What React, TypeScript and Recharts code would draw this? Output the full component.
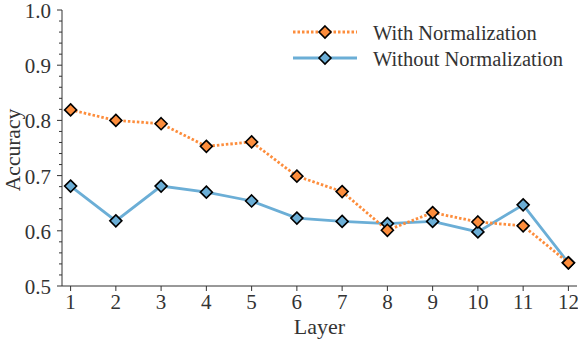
import React from 'react';
import { LineChart, Line, XAxis, YAxis } from 'recharts';

const layers = [1, 2, 3, 4, 5, 6, 7, 8, 9, 10, 11, 12];
const withNorm = [0.819, 0.8, 0.794, 0.753, 0.761, 0.699, 0.671, 0.601, 0.633, 0.616, 0.609, 0.542];
const withoutNorm = [0.681, 0.618, 0.681, 0.67, 0.654, 0.623, 0.617, 0.613, 0.617, 0.598, 0.647, 0.542];
const yTicks = [0.5, 0.52, 0.54, 0.56, 0.58, 0.6, 0.62, 0.64, 0.66, 0.68, 0.7, 0.72, 0.74, 0.76, 0.78, 0.8, 0.82, 0.84, 0.86, 0.88, 0.9, 0.92, 0.94, 0.96, 0.98, 1.0];
const yMajor = [0.5, 0.6, 0.7, 0.8, 0.9, 1.0];
const seriesNames = ['With Normalization', 'Without Normalization'];
const xLabel = 'Layer';
const yLabel = 'Accuracy';

const ORANGE = '#fd8d3c';
const BLUE = '#6baed6';
const TEXT = '#333333';
const FONT = '"Liberation Serif", "Times New Roman", serif';

const data = layers.map((l, i) => ({ layer: l, withNorm: withNorm[i], withoutNorm: withoutNorm[i] }));

const Diamond = (color: string) => (props: any) => {
  const { cx, cy } = props;
  if (cx == null || cy == null) return null;
  const r = 6;
  return (
    <path
      d={`M${cx},${cy - r}L${cx + r},${cy}L${cx},${cy + r}L${cx - r},${cy}Z`}
      fill={color}
      stroke="#000"
      strokeWidth={1.6}
    />
  );
};

const YTick = (props: any) => {
  const { x, y, payload } = props;
  const v = payload.value;
  const major = yMajor.some((m) => Math.abs(m - v) < 1e-6);
  return (
    <g>
      <line x1={x - (major ? 5 : 3)} x2={x} y1={y} y2={y} stroke={TEXT} strokeWidth={1} />
      {major && (
        <text x={x - 11} y={y + 1} textAnchor="end" dominantBaseline="central" fontSize={21} fill={TEXT} fontFamily={FONT}>
          {v.toFixed(1)}
        </text>
      )}
    </g>
  );
};

const XTick = (props: any) => {
  const { x, y, payload } = props;
  return (
    <g>
      <line x1={x} x2={x} y1={y} y2={y + 5} stroke={TEXT} strokeWidth={1} />
      <text x={x} y={y + 23} textAnchor="middle" fontSize={21} fill={TEXT} fontFamily={FONT}>
        {payload.value}
      </text>
    </g>
  );
};

const XLabel = (props: any) => {
  const vb = props.viewBox || {};
  const cx = (vb.x ?? 62) + (vb.width ?? 515) / 2;
  return (
    <text x={cx} y={334} textAnchor="middle" fontSize={22} fill={TEXT} fontFamily={FONT}>
      {xLabel}
    </text>
  );
};

const YLabel = (props: any) => {
  const vb = props.viewBox || {};
  const cy = (vb.y ?? 10) + (vb.height ?? 276) / 2 + 2;
  return (
    <text transform={`translate(19.5,${cy}) rotate(-90)`} textAnchor="middle" fontSize={21.5} fill={TEXT} fontFamily={FONT}>
      {yLabel}
    </text>
  );
};

const Legend = () => {
  const rows = [
    { name: seriesNames[0], color: ORANGE, dash: '2.5 2', y: 32 },
    { name: seriesNames[1], color: BLUE, dash: undefined, y: 58 },
  ];
  return (
    <svg width={578} height={340} style={{ position: 'absolute', left: 0, top: 0, pointerEvents: 'none' }}>
      {rows.map((r) => (
        <g key={r.name}>
          <line x1={293} x2={357} y1={r.y} y2={r.y} stroke={r.color} strokeWidth={2.8} strokeDasharray={r.dash} />
          {Diamond(r.color)({ cx: 325, cy: r.y })}
          <text x={373} y={r.y + 1} dominantBaseline="central" fontSize={20.5} fill={TEXT} fontFamily={FONT}>
            {r.name}
          </text>
        </g>
      ))}
    </svg>
  );
};

export default function App() {
  return (
    <div style={{ position: 'fixed', left: 0, top: 0, width: 578, height: 340, background: '#fff' }}>
      <LineChart width={578} height={340} data={data} margin={{ top: 10, right: 1, bottom: 0, left: 0 }}>
        <XAxis
          dataKey="layer"
          type="number"
          domain={[0.81, 12.19]}
          ticks={layers}
          allowDataOverflow
          stroke={TEXT}
          tickLine={false}
          tickSize={0}
          tickMargin={0}
          height={54}
          tick={<XTick />}
          label={<XLabel />}
        />
        <YAxis
          type="number"
          domain={[0.5, 1.0]}
          ticks={yTicks}
          allowDataOverflow
          interval={0}
          stroke={TEXT}
          tickLine={false}
          tickSize={0}
          tickMargin={0}
          width={62}
          tick={<YTick />}
          label={<YLabel />}
        />
        <Line
          dataKey="withoutNorm"
          stroke={BLUE}
          strokeWidth={2.8}
          dot={Diamond(BLUE)}
          activeDot={false}
          isAnimationActive={false}
        />
        <Line
          dataKey="withNorm"
          stroke={ORANGE}
          strokeWidth={2.8}
          strokeDasharray="2.5 2"
          dot={Diamond(ORANGE)}
          activeDot={false}
          isAnimationActive={false}
        />
      </LineChart>
      <Legend />
    </div>
  );
}
